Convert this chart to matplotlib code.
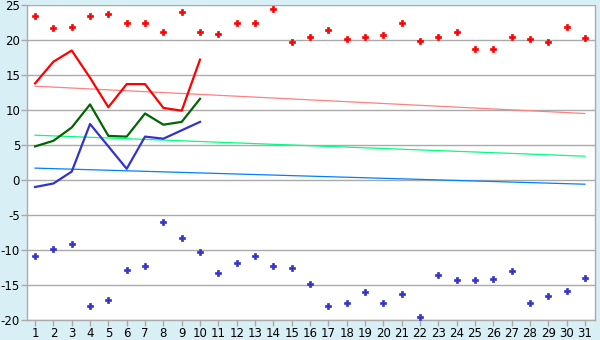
import matplotlib
matplotlib.use("Agg")
import matplotlib.pyplot as plt
import numpy as np

plt.rcParams['axes.unicode_minus'] = False

days = list(range(1, 32))
max_points = [23.4, 21.7, 21.8, 23.5, 23.7, 22.5, 22.5, 21.2, 24.0, 21.1,
              20.8, 22.5, 22.4, 24.4, 19.7, 20.4, 21.4, 20.2, 20.4, 20.7,
              22.4, 19.8, 20.4, 21.2, 18.7, 18.7, 20.4, 20.1, 19.7, 21.8, 20.3]
min_points = [-10.8, -9.9, -9.2, -18.0, -17.2, -12.8, -12.3, -6.0, -8.3, -10.3,
              -13.3, -11.8, -10.9, -12.3, -12.6, -14.8, -18.0, -17.5, -16.0, -17.5,
              -16.3, -19.5, -13.6, -14.3, -14.3, -14.2, -13.0, -17.5, -16.5, -15.9, -14.0]

line_days = list(range(1, 11))
red_line = [13.8, 16.9, 18.5, 14.6, 10.4, 13.7, 13.7, 10.3, 9.9, 17.2]
green_line = [4.8, 5.6, 7.5, 10.8, 6.3, 6.2, 9.5, 7.9, 8.3, 11.6]
blue_line = [-1.0, -0.5, 1.2, 8.0, 4.8, 1.6, 6.2, 5.9, 7.1, 8.3]

trend_days = [1, 31]
red_trend = [13.4, 9.5]
green_trend = [6.4, 3.4]
blue_trend = [1.7, -0.6]

yticks = list(range(-20, 26, 5))

bg = '#d9eff6'
grid = '#aaaaaa'

fig = plt.figure(figsize=(6, 3.4), dpi=100, facecolor=bg)
ax = fig.add_axes([27/600, 20/340, 568/600, 315/340])
ax.set_facecolor('white')

for y in yticks:
    ax.axhline(y, color=grid, lw=1.0, zorder=1)

ax.plot(trend_days, red_trend, color='#ff8080', lw=0.9, zorder=2)
ax.plot(trend_days, green_trend, color='#00ff80', lw=0.9, zorder=2)
ax.plot(trend_days, blue_trend, color='#0080ff', lw=0.9, zorder=2)

ax.plot(line_days, red_line, color='#ff0000', lw=1.6, zorder=3)
ax.plot(line_days, green_line, color='#006600', lw=1.6, zorder=3)
ax.plot(line_days, blue_line, color='#3333cc', lw=1.6, zorder=3)

ax.plot(days, max_points, linestyle='none', marker='P', color='#ff0000',
        markersize=5, markeredgewidth=0.5, zorder=4)
ax.plot(days, min_points, linestyle='none', marker='P', color='#3333cc',
        markersize=5, markeredgewidth=0.5, zorder=4)

ax.set_xlim(0.56, 31.55)
ax.set_ylim(-20, 25)
ax.set_xticks(days)
ax.set_yticks(yticks)
ax.tick_params(axis='both', colors=grid, length=4, width=1, labelsize=8.5,
               labelcolor='black', direction='out', pad=1)
for side in ['left', 'bottom', 'right']:
    ax.spines[side].set_color(grid)
    ax.spines[side].set_linewidth(1.0)
ax.spines['top'].set_visible(False)

fig.savefig('out.png', dpi=100, facecolor=bg)
